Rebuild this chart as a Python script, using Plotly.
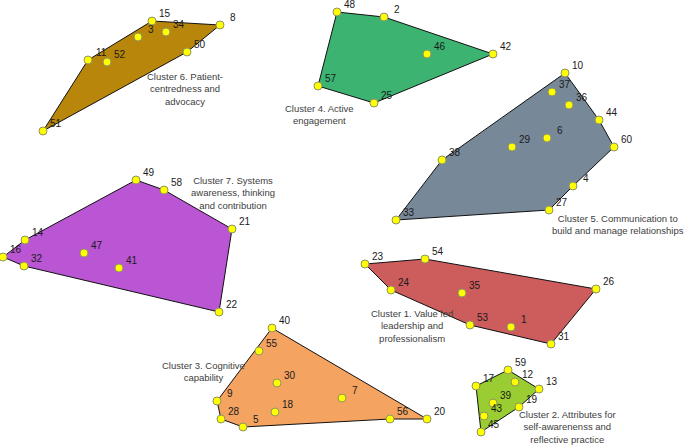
import plotly.graph_objects as go

# Point data (map coordinates, y grows downward)
point_id = [23, 54, 26, 31, 53, 24, 35, 1,
            59, 17, 12, 13, 39, 19, 43, 45,
            40, 55, 30, 7, 9, 18, 28, 5, 56, 20,
            48, 2, 42, 46, 57, 25,
            10, 37, 36, 44, 60, 6, 29, 38, 4, 27, 33,
            15, 8, 50, 51, 11, 3, 34, 52,
            49, 58, 21, 22, 32, 16, 14, 47, 41]
point_x = [365, 425, 596, 551, 470, 391, 462, 511,
           508, 476, 515, 539, 493, 519, 484, 481,
           272, 259, 277, 342, 217, 275, 221, 243, 390, 427,
           337, 384, 493, 427, 318, 374,
           565, 552, 569, 599, 614, 547, 512, 442, 573, 549, 396,
           152, 220, 187, 43, 88, 138, 166, 107,
           136, 164, 232, 219, 24, 3, 25, 84, 119]
point_y = [264, 259, 289, 344, 325, 290, 293, 327,
           370, 386, 382, 389, 403, 407, 416, 432,
           328, 351, 383, 398, 401, 412, 419, 427, 419, 419,
           12, 17, 54, 54, 86, 103,
           73, 92, 105, 120, 147, 138, 147, 160, 186, 210, 220,
           21, 25, 52, 131, 60, 37, 32, 62,
           180, 190, 229, 312, 266, 257, 240, 253, 268]

cluster_names = ["Cluster 1. Value led<br>leadership and<br>professionalism",
                 "Cluster 2. Attributes for<br>self-awarenenss and<br>reflective practice",
                 "Cluster 3. Cognitive<br>capability",
                 "Cluster 4. Active<br>engagement",
                 "Cluster 5. Communication to<br>build and manage relationships",
                 "Cluster 6. Patient-<br>centredness and<br>advocacy",
                 "Cluster 7. Systems<br>awareness, thinking<br>and contribution"]
cluster_hulls = [[23, 54, 26, 31, 53, 24],
                 [17, 59, 13, 19, 45],
                 [9, 40, 20, 56, 5, 28],
                 [48, 2, 42, 25, 57],
                 [33, 38, 10, 44, 60, 4, 27],
                 [51, 11, 15, 8, 50],
                 [16, 14, 49, 58, 21, 22, 32]]
cluster_colors = ["#CD5C5C", "#9ACD32", "#F4A460", "#3CB371",
                  "#778899", "#B8860B", "#BA55D3"]
label_x = [412, 567, 203, 319, 618, 185, 233]
label_y = [326, 427, 371, 114, 224, 89, 193]

lookup = {pid: (x, y) for pid, x, y in zip(point_id, point_x, point_y)}

fig = go.Figure()
for hull, col in zip(cluster_hulls, cluster_colors):
    hx = [lookup[p][0] for p in hull] + [lookup[hull[0]][0]]
    hy = [lookup[p][1] for p in hull] + [lookup[hull[0]][1]]
    fig.add_trace(go.Scatter(x=hx, y=hy, mode="lines", fill="toself",
                             fillcolor=col, line=dict(color="#111111", width=1),
                             hoverinfo="skip", showlegend=False))

fig.add_trace(go.Scatter(x=point_x, y=point_y, mode="markers",
                         marker=dict(size=8, color="#FFFF00",
                                     line=dict(color="#8f9460", width=1)),
                         text=[str(p) for p in point_id], hoverinfo="text",
                         showlegend=False))

annotations = []
for pid, x, y in zip(point_id, point_x, point_y):
    annotations.append(dict(x=x, y=y, xref="x", yref="y", text=str(pid),
                            showarrow=False, xshift=13, yshift=8,
                            font=dict(family="Liberation Sans", size=10, color="#1a1a1a")))
for name, x, y in zip(cluster_names, label_x, label_y):
    annotations.append(dict(x=x, y=y, xref="x", yref="y", text=name,
                            showarrow=False, align="center",
                            font=dict(family="Liberation Sans", size=9.5,
                                      color="#404040")))

fig.update_layout(
    width=685, height=446,
    margin=dict(l=0, r=0, t=0, b=0),
    paper_bgcolor="white", plot_bgcolor="white",
    xaxis=dict(range=[0, 685], visible=False, fixedrange=True),
    yaxis=dict(range=[446, 0], visible=False, fixedrange=True),
    annotations=annotations,
)
fig.write_html("out.html", config={"displayModeBar": False},
               post_script="document.body.style.margin='0';document.body.style.overflow='hidden';")
